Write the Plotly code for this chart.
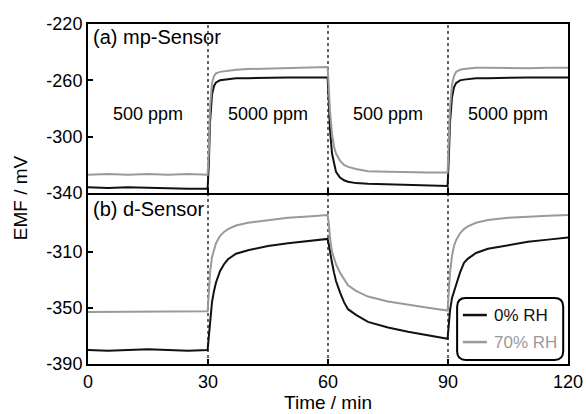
import plotly.graph_objects as go

time_min = [0, 5, 10, 15, 20, 25, 29.9, 30.2, 30.5, 31, 31.5, 32, 33, 34, 35, 37, 40, 45, 50, 55, 59.9,
            60.2, 60.5, 61, 61.5, 62, 63, 64, 65, 67, 70, 75, 80, 85, 89.9,
            90.2, 90.5, 91, 91.5, 92, 93, 94, 95, 97, 100, 105, 110, 115, 120]

mp_0rh = [-336, -336.5, -336, -336.5, -336.5, -337, -337,
          -320, -290, -270, -264, -261.5, -260, -259.5, -259, -258.5, -258.5, -258, -258, -258, -258,
          -275, -295, -312, -320, -325, -329, -331, -332, -333, -333.5, -334, -334, -334.5, -335,
          -315, -290, -272, -265, -262, -260, -259.5, -259, -258.5, -258.5, -258, -258, -258, -258]

mp_70rh = [-327, -326.5, -327, -326.5, -327, -326.5, -327,
           -310, -280, -262, -257, -255, -254, -253.5, -253, -252.5, -252, -251.5, -251, -250.5, -250.5,
           -265, -282, -298, -307, -312, -317, -320, -321.5, -323, -324.5, -325, -325.5, -325.5, -325.5,
           -305, -280, -263, -257, -254, -252.5, -252, -251.5, -251, -251, -251.5, -251.5, -251, -251]

d_0rh = [-380, -380.5, -380, -379.5, -380, -380.5, -380,
         -370, -358, -346, -338, -332, -324, -319, -315.5, -311.5, -309, -306, -304, -302.5, -301,
         -305, -311, -318, -325, -331, -339, -346, -351, -355, -360, -364, -367, -369.5, -372,
         -362, -352, -343, -338, -334, -325, -318, -315, -311, -308, -305.5, -303, -301.5, -300]

d_70rh = [-353, -353, -352.5, -352.5, -353, -352.5, -352.5,
          -340, -325, -314, -308, -304, -299, -296, -294, -291.5, -289.5, -287.5, -286, -285, -284,
          -290, -300, -310, -315, -319, -325, -330, -334, -338, -342, -345.5, -348, -350, -352,
          -340, -325, -313, -306, -302, -297, -294, -292, -289.5, -287.5, -286, -285, -284.5, -284]

switch_times = [30, 60, 90]
conc_labels = ["500 ppm", "5000 ppm", "500 ppm", "5000 ppm"]
conc_centers = [15, 45, 75, 105]
x_ticks = [0, 30, 60, 90, 120]
top_ticks = [-220, -260, -300, -340]
bottom_ticks = [-310, -350, -390]
series_names = ["0% RH", "70% RH"]

BLACK = "#111111"
GRAY = "#9a9a9a"
FONT = "Liberation Sans, Arial, sans-serif"

fig = go.Figure()
fig.add_trace(go.Scatter(x=time_min, y=mp_0rh, mode="lines", line=dict(color=BLACK, width=2),
                         xaxis="x2", yaxis="y2", name=series_names[0], showlegend=False))
fig.add_trace(go.Scatter(x=time_min, y=mp_70rh, mode="lines", line=dict(color=GRAY, width=2),
                         xaxis="x2", yaxis="y2", name=series_names[1], showlegend=False))
fig.add_trace(go.Scatter(x=time_min, y=d_0rh, mode="lines", line=dict(color=BLACK, width=2),
                         xaxis="x", yaxis="y", name=series_names[0], showlegend=False))
fig.add_trace(go.Scatter(x=time_min, y=d_70rh, mode="lines", line=dict(color=GRAY, width=2),
                         xaxis="x", yaxis="y", name=series_names[1], showlegend=False))

shapes = []
for t in switch_times:
    shapes.append(dict(type="line", xref="x", yref="paper", x0=t, x1=t, y0=0, y1=1,
                       line=dict(color="#333333", width=1.5, dash="dot"), layer="below"))

# custom rounded legend box (paper coords)
lx0, lx1, ly0, ly1, r = 0.769, 0.990, 0.012, 0.194, 0.018
ry = r * 480 / 341
path = (f"M {lx0+r},{ly0} L {lx1-r},{ly0} Q {lx1},{ly0} {lx1},{ly0+ry} "
        f"L {lx1},{ly1-ry} Q {lx1},{ly1} {lx1-r},{ly1} L {lx0+r},{ly1} "
        f"Q {lx0},{ly1} {lx0},{ly1-ry} L {lx0},{ly0+ry} Q {lx0},{ly0} {lx0+r},{ly0} Z")
shapes.append(dict(type="path", xref="paper", yref="paper", path=path,
                   line=dict(color="black", width=2), fillcolor="white", layer="above"))
legend_rows = [0.144, 0.0645]
legend_colors = [BLACK, GRAY]
for yy, col in zip(legend_rows, legend_colors):
    shapes.append(dict(type="line", xref="paper", yref="paper", x0=0.781, x1=0.831, y0=yy, y1=yy,
                       line=dict(color=col, width=2.5), layer="above"))

annotations = [
    dict(text="(a) mp-Sensor", xref="paper", yref="paper", x=0.006, y=1.0, xanchor="left", yanchor="top",
         showarrow=False, font=dict(size=20, color="black", family=FONT)),
    dict(text="(b) d-Sensor", xref="paper", yref="paper", x=0.006, y=0.494, xanchor="left", yanchor="top",
         showarrow=False, font=dict(size=20, color="black", family=FONT)),
    dict(text="EMF / mV", xref="paper", yref="paper", x=-0.14, y=0.49, textangle=-90,
         xanchor="center", yanchor="middle", showarrow=False, font=dict(size=19, color="black", family=FONT)),
]
for c, lab in zip(conc_centers, conc_labels):
    annotations.append(dict(text=lab, xref="x2", yref="y2", x=c, y=-284, showarrow=False,
                            font=dict(size=18, color="black", family=FONT)))
for yy, col, nm in zip(legend_rows, legend_colors, series_names):
    annotations.append(dict(text=nm, xref="paper", yref="paper", x=0.842, y=yy, xanchor="left",
                            yanchor="middle", showarrow=False, font=dict(size=17, color=col, family=FONT)))

axis_common = dict(showline=True, linewidth=2, linecolor="black", mirror=True, ticks="inside",
                   ticklen=5, tickwidth=1.5, tickcolor="black", showgrid=False, zeroline=False,
                   automargin=False, tickfont=dict(size=18, color="black", family=FONT))

fig.update_layout(
    template="none",
    width=586, height=414,
    margin=dict(l=88, r=18, t=24, b=50, autoexpand=False),
    paper_bgcolor="white", plot_bgcolor="white",
    font=dict(family=FONT, color="black", size=18),
    showlegend=False,
    xaxis=dict(domain=[0, 1], anchor="y", range=[0, 120], tickvals=x_ticks,
               title=dict(text="Time / min", standoff=2, font=dict(size=19)), **axis_common),
    xaxis2=dict(domain=[0, 1], anchor="y2", range=[0, 120], tickvals=x_ticks,
                showticklabels=False, matches="x", **axis_common),
    yaxis=dict(domain=[0, 0.496], anchor="x", range=[-390, -270], tickvals=bottom_ticks,
               ticktext=[str(v) for v in bottom_ticks], **axis_common),
    yaxis2=dict(domain=[0.503, 1], anchor="x2", range=[-340, -220], tickvals=top_ticks,
                ticktext=[str(v) for v in top_ticks], **axis_common),
    shapes=shapes,
    annotations=annotations,
)

# remove the default page margin so the 586x414 figure fills the window exactly
fig.write_html("out.html", config={"displayModeBar": False},
               post_script="document.body.style.margin='0';document.body.style.overflow='hidden';")
